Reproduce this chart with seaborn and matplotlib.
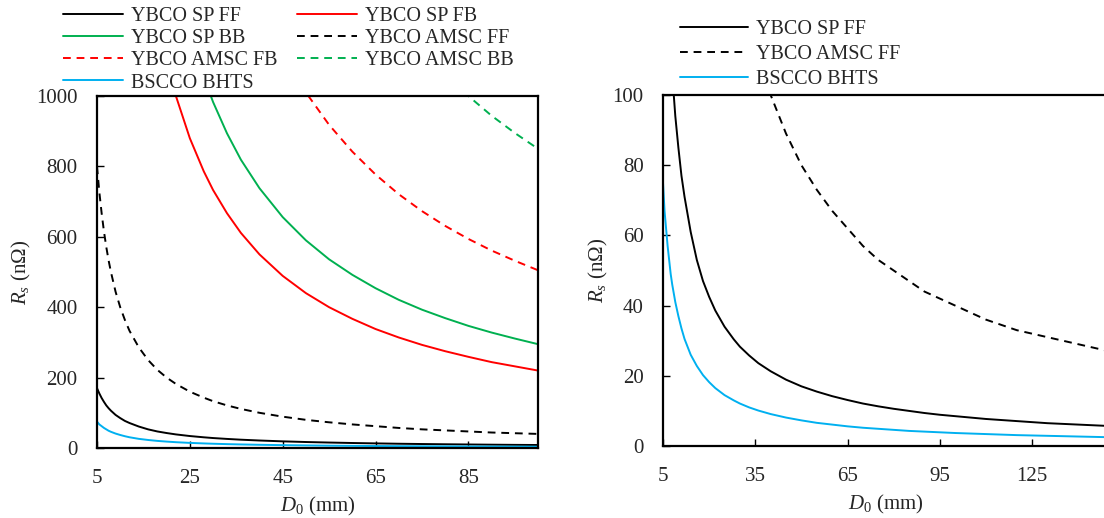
import pandas as pd
import matplotlib
matplotlib.use('Agg')
import matplotlib.pyplot as plt
import seaborn as sns

# diametres (mm)
d_left = [5, 5.5, 6, 6.5, 7, 7.5, 8, 9, 10, 11, 12, 14, 16, 18, 20, 22, 25, 28, 30,
          33, 36, 40, 45, 50, 55, 60, 65, 70, 75, 80, 85, 90, 95, 100]
d_right = d_left + [110, 120, 130, 140, 150]

# Rs (nOhm)
rs_sp_ff = [170, 155, 142, 131, 121, 113, 106, 94, 85, 77, 71, 61, 53, 47, 42.5,
            38.6, 34, 30.4, 28.3, 25.8, 23.6, 21.3, 18.9, 17, 15.5, 14.2, 13.1, 12.1,
            11.3, 10.6, 10, 9.4, 8.9, 8.5, 7.7, 7.1, 6.5, 6.1, 5.7]
rs_amsc_ff = [800, 727, 667, 615, 571, 533, 500, 444, 400, 364, 333, 286, 250, 222,
              200, 182, 160, 143, 133, 121, 111, 100, 89, 80, 73, 67, 62, 57, 53,
              50, 47, 44, 42, 40, 36, 33, 31, 29, 27]
rs_bscco = [75, 67, 62, 57, 53, 49, 46, 41, 37, 33.5, 30.5, 26, 22.8, 20.2, 18.2,
            16.5, 14.5, 13, 12.1, 11, 10.1, 9.1, 8.1, 7.3, 6.6, 6.1, 5.6, 5.2, 4.9,
            4.6, 4.3, 4.1, 3.9, 3.7, 3.4, 3.1, 2.9, 2.7, 2.5]
rs_sp_fb = [4400, 4000, 3667, 3385, 3143, 2933, 2750, 2444, 2200, 2000, 1833, 1571,
            1375, 1222, 1100, 1000, 880, 786, 733, 667, 611, 550, 489, 440, 400, 367,
            338, 314, 293, 275, 259, 244, 232, 220]
rs_sp_bb = [5900, 5364, 4917, 4538, 4214, 3933, 3688, 3278, 2950, 2682, 2458, 2107,
            1844, 1639, 1475, 1341, 1180, 1054, 983, 894, 819, 738, 656, 590, 536,
            492, 454, 421, 393, 369, 347, 328, 311, 295]
rs_amsc_fb = [10100, 9182, 8417, 7769, 7214, 6733, 6313, 5611, 5050, 4591, 4208,
              3607, 3156, 2806, 2525, 2295, 2020, 1804, 1683, 1530, 1403, 1263, 1122,
              1010, 918, 842, 777, 721, 673, 631, 594, 561, 532, 505]
rs_amsc_bb = [17000, 15455, 14167, 13077, 12143, 11333, 10625, 9444, 8500, 7727,
              7083, 6071, 5313, 4722, 4250, 3864, 3400, 3036, 2833, 2576, 2361, 2125,
              1889, 1700, 1545, 1417, 1308, 1214, 1133, 1063, 1000, 944, 895, 850]

x_ticks_left = [5, 25, 45, 65, 85]
x_ticks_right = [5, 35, 65, 95, 125]
y_ticks_left = [0, 200, 400, 600, 800, 1000]
y_ticks_right = [0, 20, 40, 60, 80, 100]

black, red, green, cyan = '#000000', '#FF0000', '#00B050', '#00B0F0'
dash = (0, (4, 3))

sns.set_style('ticks')
plt.rcParams['font.family'] = ['Liberation Serif', 'DejaVu Serif']
plt.rcParams['mathtext.fontset'] = 'custom'
plt.rcParams['mathtext.rm'] = 'Liberation Serif'
plt.rcParams['mathtext.it'] = 'Liberation Serif:italic'

fig = plt.figure(figsize=(11.04, 5.18), dpi=100)
ax1 = fig.add_axes([97 / 1104, 1 - 448 / 518, 441 / 1104, 352 / 518])
ax2 = fig.add_axes([663 / 1104, 1 - 446 / 518, 446 / 1104, 351 / 518])

lw = 1.4
n = len(d_left)
# panneau gauche (ordre pour remplir la legende en colonnes)
series_left = [
    ('YBCO SP FF', d_left, rs_sp_ff[:n], black, '-'),
    ('YBCO SP BB', d_left, rs_sp_bb, green, '-'),
    ('YBCO AMSC FB', d_left, rs_amsc_fb, red, dash),
    ('BSCCO BHTS', d_left, rs_bscco[:n], cyan, '-'),
    ('YBCO SP FB', d_left, rs_sp_fb, red, '-'),
    ('YBCO AMSC FF', d_left, rs_amsc_ff[:n], black, dash),
    ('YBCO AMSC BB', d_left, rs_amsc_bb, green, dash),
]
for name, xs, ys, c, ls in series_left:
    sns.lineplot(x=xs, y=ys, ax=ax1, color=c, linestyle=ls, lw=lw, label=name)

# panneau droit
series_right = [
    ('YBCO SP FF', d_right, rs_sp_ff, black, '-'),
    ('YBCO AMSC FF', d_right, rs_amsc_ff, black, dash),
    ('BSCCO BHTS', d_right, rs_bscco, cyan, '-'),
]
for name, xs, ys, c, ls in series_right:
    sns.lineplot(x=xs, y=ys, ax=ax2, color=c, linestyle=ls, lw=lw, label=name)

for ax, xt, yt, xl, yl in [(ax1, x_ticks_left, y_ticks_left, (5, 100), (0, 1000)),
                           (ax2, x_ticks_right, y_ticks_right, (5, 150), (0, 100))]:
    ax.set_xlim(*xl)
    ax.set_ylim(*yl)
    ax.set_xticks(xt)
    ax.set_yticks(yt)
    ax.tick_params(direction='in', length=5, width=1, labelsize=15, color='black')
    ax.tick_params(axis='x', pad=15)
    ax.tick_params(axis='y', pad=14)
    for sp in ax.spines.values():
        sp.set_visible(True)
        sp.set_linewidth(1.6)
        sp.set_color('black')
    ax.set_xlabel(r'$D_{\mathit{0}}$ (mm)', fontsize=15, labelpad=5)
    ax.set_ylabel(r'$R_{\mathit{s}}$ (n$\Omega$)', fontsize=15, labelpad=2)
    ax.grid(False)

ax1.legend(ncol=2, frameon=False, fontsize=14.5, loc='lower left',
           bbox_to_anchor=(-0.096, 0.987), handlelength=3.0, handletextpad=0.4,
           columnspacing=0.95, labelspacing=0.15, borderaxespad=0)
ax2.legend(ncol=1, frameon=False, fontsize=14.5, loc='lower left',
           bbox_to_anchor=(0.019, 0.994), handlelength=3.4, handletextpad=0.4,
           labelspacing=0.3, borderaxespad=0)

fig.savefig('out.png', dpi=100)
